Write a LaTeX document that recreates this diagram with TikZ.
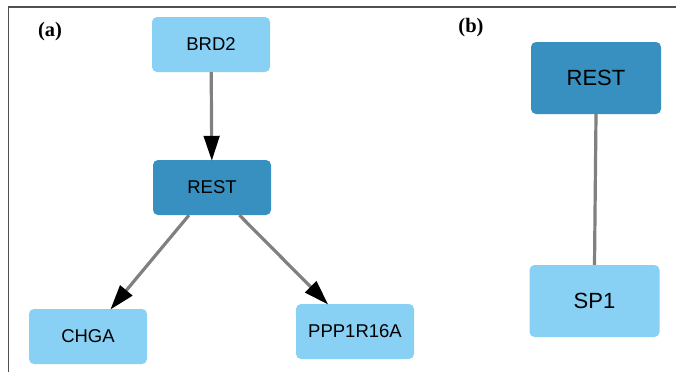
\documentclass[tikz,border=0pt]{standalone}
\usepackage{fontspec}
\setmainfont{Liberation Serif}
\newfontfamily\arialfont{Liberation Sans}
\usetikzlibrary{arrows.meta}
\definecolor{lightnode}{RGB}{137,208,245}
\definecolor{darknode}{RGB}{55,144,192}
\definecolor{edgegray}{RGB}{128,128,128}
\definecolor{framegray}{RGB}{80,80,80}
\begin{document}
\begin{tikzpicture}[x=1pt,y=-1pt,
  gene/.style={rectangle, rounded corners=5pt, draw=none, inner sep=0pt, font=\arialfont\fontsize{18.5}{22}\selectfont},
  smallgene/.style={gene, minimum width=118pt, minimum height=55pt},
  biggene/.style={gene, minimum width=130pt, minimum height=72pt, font=\arialfont\fontsize{22}{26}\selectfont},
  lightfill/.style={fill=lightnode},
  darkfill/.style={fill=darknode},
  edgeline/.style={draw=edgegray, line width=3.2pt},
  arrowedge/.style={edgeline, -{Triangle[length=25pt,width=15.5pt,black]}, shorten >=-1pt},
  panellabel/.style={font=\bfseries\fontsize{20.5}{24}\selectfont, inner sep=0pt}
]
\useasboundingbox (0,0) rectangle (676,372);
% frame
\coordinate (ftop) at (8.5,7);
\coordinate (fright) at (676,7);
\coordinate (fbottom) at (8.5,372);
\draw[framegray, line width=1.6pt] (fbottom) -- (ftop) -- (fright);
% panel labels
\node[panellabel] (la) at (50,32) {(a)};
\node[panellabel] (lb) at (471,28) {(b)};
% panel (a)
\node[smallgene, lightfill] (brd2) at (211,44.5) {BRD2};
\node[smallgene, darkfill] (resta) at (212,187.5) {REST};
\node[smallgene, lightfill] (chga) at (88,336.5) {CHGA};
\node[smallgene, lightfill] (ppp) at (355,331.5) {PPP1R16A};
\draw[arrowedge] (brd2) -- (resta);
\draw[arrowedge] (resta) -- (chga);
\draw[arrowedge] (resta) -- (ppp);
% panel (b)
\node[biggene, darkfill] (restb) at (596,78) {REST};
\node[biggene, lightfill] (sp1) at (594.5,301) {SP1};
\draw[edgeline] (restb.south) -- (sp1.north);
\end{tikzpicture}
\end{document}
